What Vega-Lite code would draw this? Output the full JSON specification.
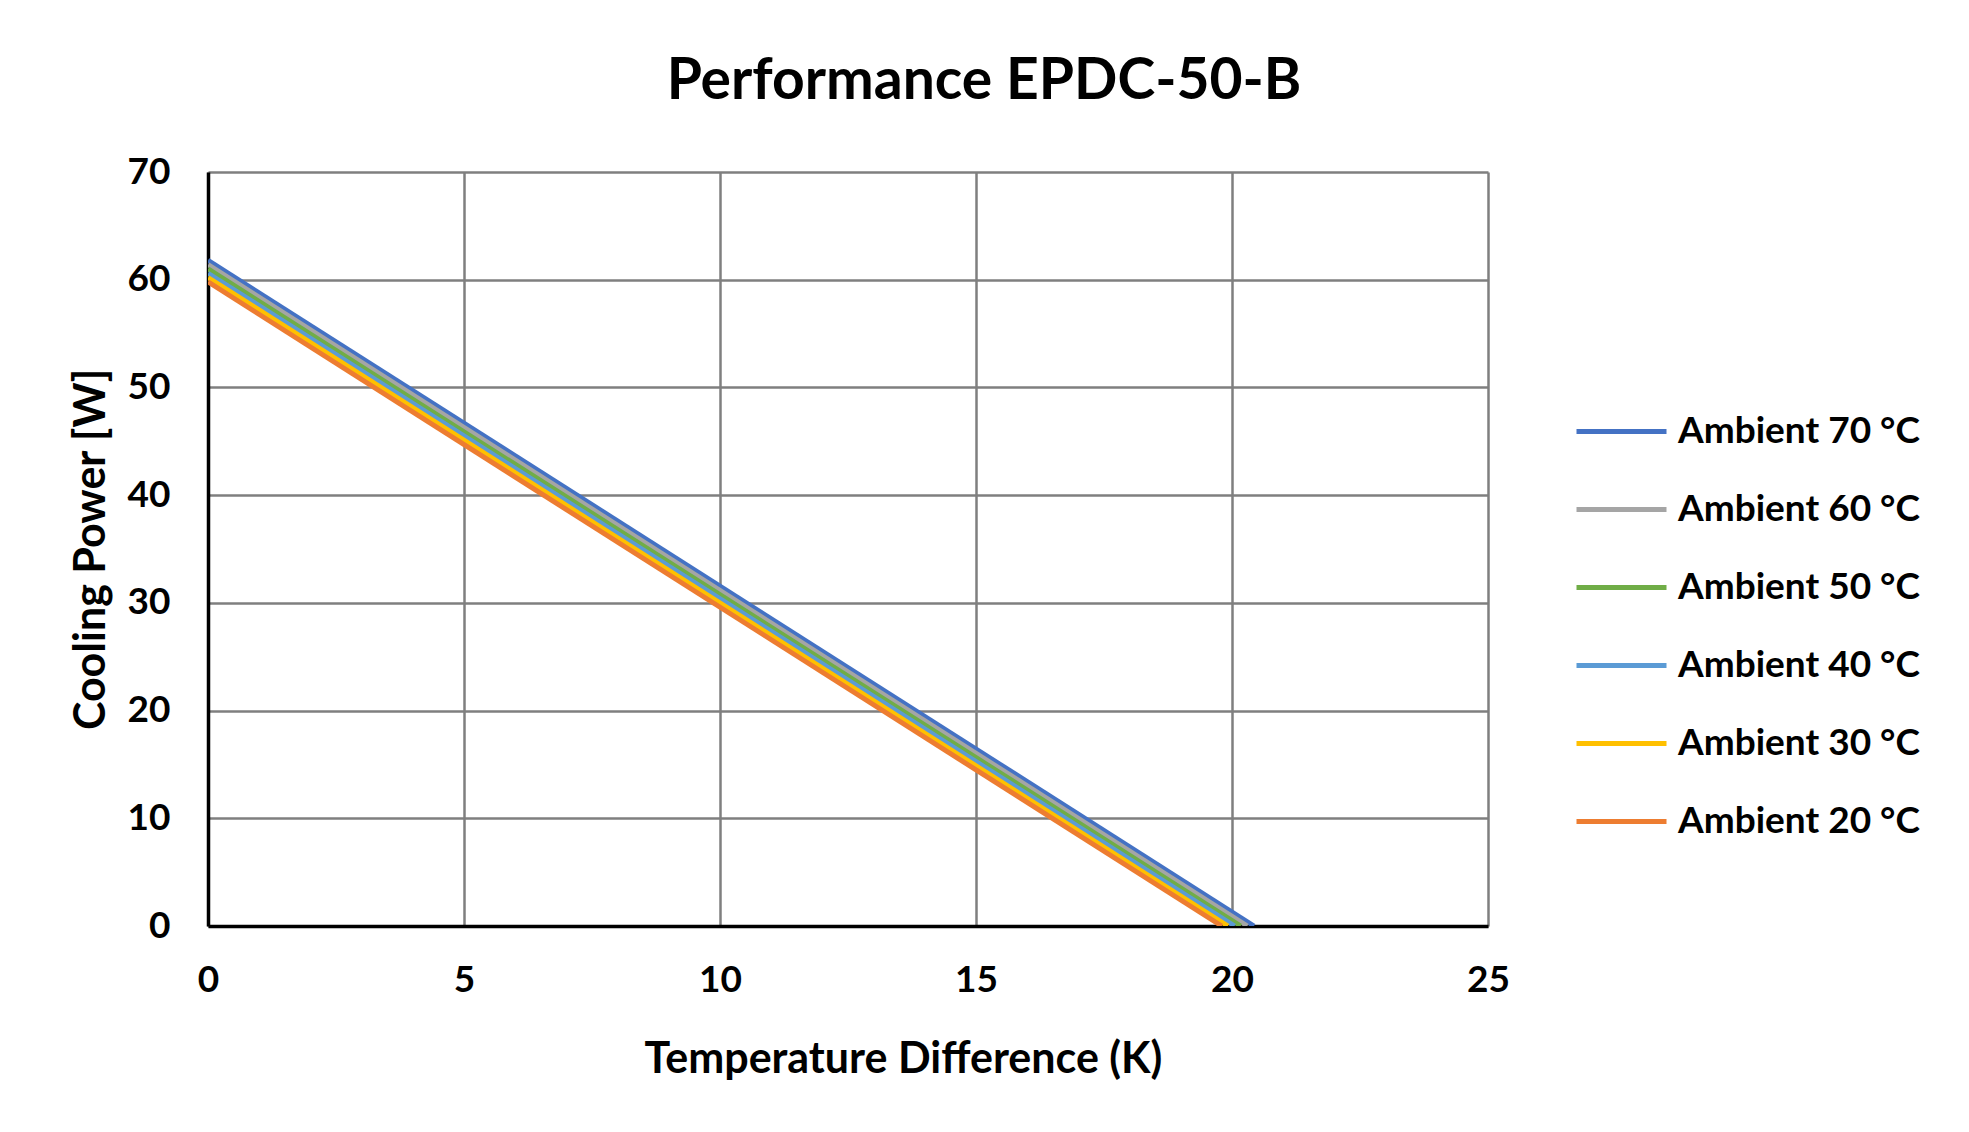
{
  "$schema": "https://vega.github.io/schema/vega-lite/v6.json",
  "width": 1280,
  "height": 754,
  "autosize": {"type": "none"},
  "padding": {"left": 208, "top": 172, "right": 481, "bottom": 206},
  "background": "white",
  "title": {
    "text": "Performance EPDC-50-B",
    "font": "Lato",
    "fontSize": 57,
    "fontWeight": "bold",
    "color": "#000000",
    "anchor": "middle",
    "dx": 136,
    "baseline": "alphabetic",
    "offset": -3
  },
  "data": {
    "values": [
      {"series": "Ambient 70 °C", "dT": 0, "P": 61.8},
      {"series": "Ambient 70 °C", "dT": 20.43, "P": 0},
      {"series": "Ambient 60 °C", "dT": 0, "P": 61.4},
      {"series": "Ambient 60 °C", "dT": 20.3, "P": 0},
      {"series": "Ambient 50 °C", "dT": 0, "P": 61.0},
      {"series": "Ambient 50 °C", "dT": 20.17, "P": 0},
      {"series": "Ambient 40 °C", "dT": 0, "P": 60.6},
      {"series": "Ambient 40 °C", "dT": 20.05, "P": 0},
      {"series": "Ambient 30 °C", "dT": 0, "P": 60.2},
      {"series": "Ambient 30 °C", "dT": 19.92, "P": 0},
      {"series": "Ambient 20 °C", "dT": 0, "P": 59.8},
      {"series": "Ambient 20 °C", "dT": 19.8, "P": 0}
    ]
  },
  "mark": {"type": "line", "strokeWidth": 5, "strokeCap": "butt", "clip": true},
  "encoding": {
    "x": {
      "field": "dT",
      "type": "quantitative",
      "scale": {"domain": [0, 25], "nice": false, "zero": false},
      "axis": {
        "title": "Temperature Difference (K)",
        "values": [0, 5, 10, 15, 20, 25],
        "ticks": false,
        "labelFlush": false,
        "labelPadding": 36,
        "titlePadding": 40,
        "titleX": 695,
        "titleAlign": "center",
        "titleAnchor": null
      }
    },
    "y": {
      "field": "P",
      "type": "quantitative",
      "scale": {"domain": [0, 70], "nice": false},
      "axis": {
        "title": "Cooling Power [W]",
        "values": [0, 10, 20, 30, 40, 50, 60, 70],
        "ticks": false,
        "labelFlush": false,
        "labelPadding": 38,
        "titlePadding": 14
      }
    },
    "color": {
      "field": "series",
      "type": "nominal",
      "scale": {
        "domain": ["Ambient 70 °C", "Ambient 60 °C", "Ambient 50 °C", "Ambient 40 °C", "Ambient 30 °C", "Ambient 20 °C"],
        "range": ["#4472C4", "#A5A5A5", "#70AD47", "#5B9BD5", "#FFC000", "#ED7D31"]
      },
      "legend": {
        "title": null,
        "orient": "none",
        "legendX": 1366,
        "legendY": 212,
        "symbolType": "stroke",
        "symbolSize": 8100,
        "symbolStrokeWidth": 5,
        "labelOffset": 9,
        "rowPadding": 12,
        "labelFont": "Lato",
        "labelFontSize": 37,
        "labelFontWeight": "bold",
        "labelColor": "#000000",
        "labelLimit": 400
      }
    }
  },
  "config": {
    "view": {"stroke": null},
    "axis": {
      "labelFont": "Lato",
      "labelFontSize": 37,
      "labelFontWeight": "bold",
      "labelColor": "#000000",
      "titleFont": "Lato",
      "titleFontSize": 43,
      "titleFontWeight": "bold",
      "titleColor": "#000000",
      "gridColor": "#7F7F7F",
      "gridWidth": 2.5,
      "gridOpacity": 1,
      "domainColor": "#000000",
      "domainWidth": 3.5
    }
  }
}
